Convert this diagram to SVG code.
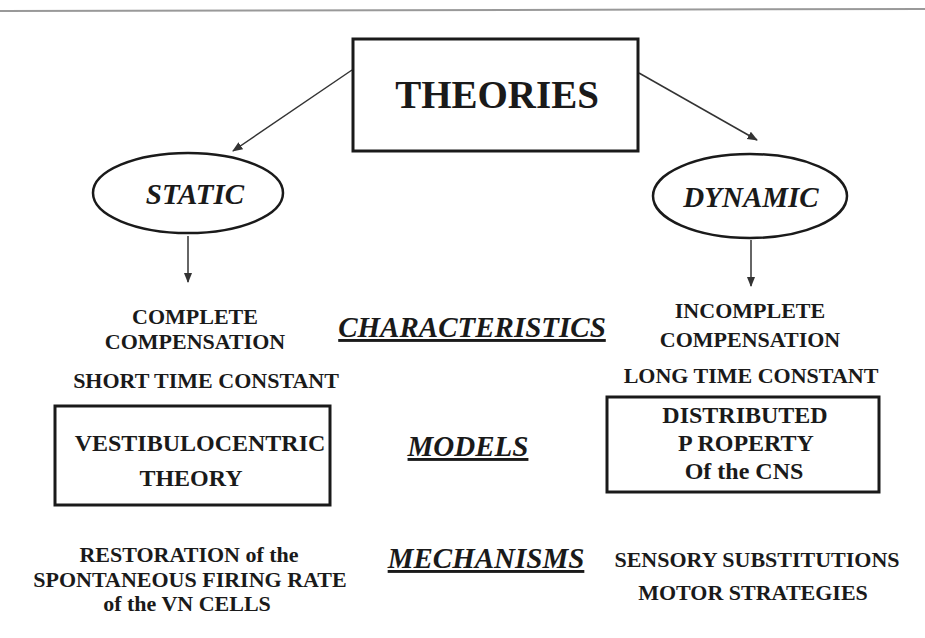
<svg xmlns="http://www.w3.org/2000/svg" width="925" height="638" viewBox="0 0 925 638">
<style>
  text{font-family:"Liberation Serif","Times New Roman",serif;font-weight:bold;fill:#1a1a1a;text-anchor:middle}
  .t{font-size:22px}
  .b{font-size:24px}
  .h{font-size:29px;font-style:italic;text-decoration:underline}
  .e{font-size:29px;font-style:italic}
  .box{fill:none;stroke:#1a1a1a;stroke-width:3}
  .ell{fill:none;stroke:#1a1a1a;stroke-width:2.5}
  .c{stroke:#333;stroke-width:1.5;fill:none;marker-end:url(#ah)}
</style>
<defs>
  <marker id="ah" viewBox="0 0 10 10" refX="9" refY="5" markerWidth="7" markerHeight="7" orient="auto">
    <path d="M0,1 L10,5 L0,9 z" fill="#333"/>
  </marker>
</defs>
<rect width="925" height="638" fill="#fff"/>
<line x1="0" y1="11" x2="925" y2="9" stroke="#999" stroke-width="2"/>
<g id="connectors">
  <line class="c" x1="352" y1="70" x2="233" y2="151"/>
  <line class="c" x1="639" y1="73" x2="757" y2="140"/>
  <line class="c" x1="188" y1="236" x2="188" y2="282"/>
  <line class="c" x1="751" y1="240" x2="751" y2="286"/>
</g>
<g id="theories">
  <rect class="box" x="353" y="39" width="285" height="112"/>
  <text x="497" y="108" style="font-size:39px">THEORIES</text>
</g>
<g id="static">
  <ellipse class="ell" cx="188" cy="193" rx="95" ry="40"/>
  <text class="e" x="195" y="204">STATIC</text>
</g>
<g id="dynamic">
  <ellipse class="ell" cx="750" cy="196" rx="97" ry="42"/>
  <text class="e" x="751" y="207">DYNAMIC</text>
</g>
<g id="static-char">
  <text class="t" x="195" y="324">COMPLETE</text>
  <text class="t" x="195" y="349">COMPENSATION</text>
  <text class="t" x="206" y="388">SHORT TIME CONSTANT</text>
</g>
<g id="characteristics"><text class="h" x="472" y="337">CHARACTERISTICS</text></g>
<g id="dynamic-char">
  <text class="t" x="750" y="318">INCOMPLETE</text>
  <text class="t" x="750" y="347">COMPENSATION</text>
  <text class="t" x="751" y="383">LONG TIME CONSTANT</text>
</g>
<g id="vestibulocentric">
  <rect class="box" x="55" y="406" width="275" height="99"/>
  <text class="b" x="200" y="451">VESTIBULOCENTRIC</text>
  <text class="b" x="191" y="486">THEORY</text>
</g>
<g id="models"><text class="h" x="468" y="456">MODELS</text></g>
<g id="distributed">
  <rect class="box" x="607" y="397" width="272" height="95"/>
  <text class="b" x="745" y="423">DISTRIBUTED</text>
  <text class="b" x="746" y="451">P ROPERTY</text>
  <text class="b" x="744" y="479">Of the CNS</text>
</g>
<g id="restoration">
  <text class="t" x="189" y="562">RESTORATION of the</text>
  <text class="t" x="190" y="587">SPONTANEOUS FIRING RATE</text>
  <text class="t" x="187" y="611">of the VN CELLS</text>
</g>
<g id="mechanisms"><text class="h" x="486" y="568">MECHANISMS</text></g>
<g id="sensory">
  <text class="t" x="757" y="567">SENSORY SUBSTITUTIONS</text>
  <text class="t" x="753" y="600">MOTOR STRATEGIES</text>
</g>
</svg>
